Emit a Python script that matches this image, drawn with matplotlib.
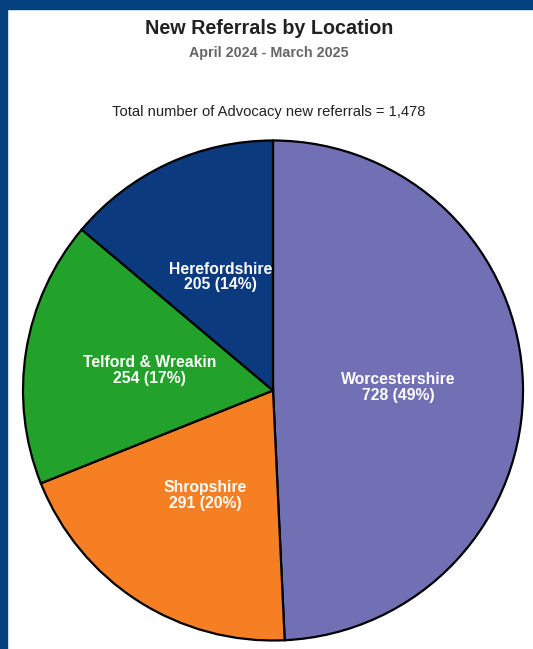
import matplotlib.pyplot as plt
import numpy as np

locations = ["Worcestershire", "Shropshire", "Telford & Wreakin", "Herefordshire"]
referrals = [728, 291, 254, 205]
colours = ["#7170b5", "#f57f22", "#23a22b", "#0b3a7e"]

plt.rcParams['font.family'] = ['Liberation Sans', 'DejaVu Sans']

W, H = 533, 649
fig = plt.figure(figsize=(W / 100, H / 100), dpi=100)
fig.patch.set_facecolor("white")

# dark blue frame on top and left
fig.patches.append(plt.Rectangle((0, 1 - 9 / H), 1, 9 / H, transform=fig.transFigure,
                                  color="#05407f", zorder=0))
fig.patches.append(plt.Rectangle((0, 0), 7 / W, 1, transform=fig.transFigure,
                                 color="#05407f", zorder=0))

cx, cy, r = 273, 390.5, 250
pad = 1.01
ax = fig.add_axes([(cx - r * pad) / W, (H - cy - r * pad) / H,
                   2 * r * pad / W, 2 * r * pad / H])
wedges, _ = ax.pie(referrals, colors=colours, startangle=90, counterclock=False,
                   radius=1, wedgeprops=dict(edgecolor="black", linewidth=1.6))
ax.set_xlim(-pad, pad)
ax.set_ylim(-pad, pad)
ax.set_aspect("equal")
ax.axis("off")

total = sum(referrals)
for w, name, val in zip(wedges, locations, referrals):
    ang = np.deg2rad((w.theta1 + w.theta2) / 2)
    pct = round(val / total * 100)
    ax.text(0.5 * np.cos(ang), 0.5 * np.sin(ang), f"{name}\n{val} ({pct}%)",
            ha="center", va="center", color="white", fontsize=11.3,
            fontweight="bold", linespacing=1.05)

fig.text(269 / W, 1 - 28 / H, "New Referrals by Location", ha="center", va="center",
         fontsize=14.2, fontweight="bold", color="#222222")
fig.text(269 / W, 1 - 53 / H, "April 2024 - March 2025", ha="center", va="center",
         fontsize=10.25, fontweight="bold", color="#666666")
fig.text(269 / W, 1 - 112 / H, f"Total number of Advocacy new referrals = {total:,}",
         ha="center", va="center", fontsize=10.6, color="#222222")

fig.savefig("out.png", dpi=100)
